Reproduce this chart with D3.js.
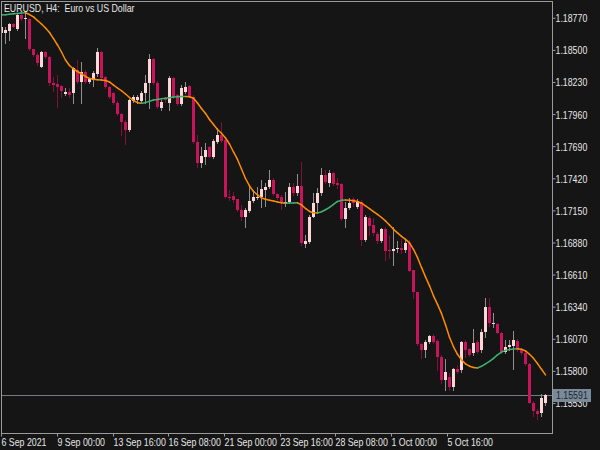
<!DOCTYPE html>
<html>
<head>
<meta charset="utf-8">
<script src="https://cdn.jsdelivr.net/npm/d3@7"></script>
<style>
  html, body { margin: 0; padding: 0; background: #151515; }
  svg { display: block; }
  text { font-family: "Liberation Sans", Arial, sans-serif; font-size: 11px; fill: #e6e6e6; white-space: pre; }
</style>
</head>
<body>
<svg id="chart" width="600" height="450"></svg>
<script>
const title = "EURUSD, H4:  Euro vs US Dollar";

const open = [1.18635,1.18635,1.18657,1.18713,1.18669,1.18791,1.18753,1.18755,1.18501,1.18453,
1.18354,1.18480,1.18438,1.18215,1.18206,1.18192,1.18125,1.18144,1.18136,1.18327,
1.18228,1.18312,1.18226,1.18242,1.18293,1.18475,1.18265,1.18181,1.18131,1.18052,
1.17957,1.17892,1.17822,1.18068,1.18074,1.18068,1.18131,1.18215,1.18416,1.18220,
1.18005,1.18089,1.18047,1.18257,1.18116,1.18041,1.18144,1.18192,1.18102,1.17724,
1.17547,1.17598,1.17677,1.17593,1.17724,1.17780,1.17738,1.17261,1.17267,1.17239,
1.17150,1.17093,1.17144,1.17228,1.17248,1.17256,1.17318,1.17340,1.17402,1.17284,
1.17256,1.17200,1.17219,1.17345,1.17295,1.17351,1.16864,1.16883,1.17093,1.17211,
1.17290,1.17444,1.17379,1.17463,1.17374,1.17368,1.17071,1.17164,1.17239,1.17172,
1.17219,1.16897,1.17080,1.17023,1.16948,1.16891,1.16987,1.16813,1.16807,1.16819,
1.16828,1.16813,1.16875,1.16645,1.16463,1.16023,1.15967,1.16042,1.16090,1.16051,
1.15916,1.15715,1.15748,1.15659,1.15815,1.15804,1.16042,1.15978,1.15950,1.16042,
1.15967,1.16126,1.16337,1.16191,1.16191,1.16118,1.15958,1.15995,1.16006,1.16051,
1.15973,1.15950,1.15855,1.15529,1.15462,1.15440,1.15529];

const high = [1.18691,1.18685,1.18719,1.18719,1.18803,1.18808,1.18817,1.18761,1.18506,1.18467,
1.18486,1.18486,1.18444,1.18270,1.18284,1.18200,1.18173,1.18175,1.18352,1.18411,
1.18396,1.18327,1.18259,1.18321,1.18509,1.18486,1.18276,1.18192,1.18142,1.18066,
1.17965,1.17906,1.18083,1.18116,1.18116,1.18150,1.18284,1.18461,1.18427,1.18234,
1.18074,1.18100,1.18276,1.18268,1.18125,1.18200,1.18228,1.18200,1.18116,1.17780,
1.17682,1.17715,1.17688,1.17746,1.17836,1.17892,1.17746,1.17318,1.17303,1.17242,
1.17192,1.17164,1.17360,1.17318,1.17345,1.17402,1.17374,1.17486,1.17416,1.17292,
1.17276,1.17303,1.17374,1.17374,1.17450,1.17556,1.16939,1.17107,1.17290,1.17332,
1.17500,1.17486,1.17486,1.17469,1.17416,1.17377,1.17219,1.17248,1.17256,1.17239,
1.17234,1.17107,1.17099,1.17080,1.16967,1.16996,1.17009,1.16931,1.17009,1.16891,
1.16903,1.16897,1.16897,1.16645,1.16463,1.16034,1.16057,1.16099,1.16107,1.16063,
1.15931,1.15894,1.15777,1.15819,1.15846,1.16051,1.16057,1.15989,1.16147,1.16057,
1.16147,1.16407,1.16407,1.16281,1.16200,1.16126,1.16057,1.16057,1.16135,1.16065,
1.15981,1.15958,1.15863,1.15544,1.15474,1.15603,1.15603];

const low = [1.18629,1.18556,1.18579,1.18685,1.18663,1.18747,1.18593,1.18495,1.18444,1.18369,
1.18349,1.18425,1.18200,1.18152,1.18018,1.18102,1.18116,1.18100,1.18052,1.18217,
1.18052,1.18217,1.18217,1.18192,1.18276,1.18251,1.18175,1.18091,1.18041,1.17948,
1.17780,1.17704,1.17814,1.18057,1.18047,1.18057,1.18047,1.18005,1.18209,1.18007,
1.17990,1.18057,1.17990,1.18091,1.18032,1.18032,1.18131,1.18100,1.17713,1.17514,
1.17509,1.17536,1.17591,1.17584,1.17710,1.17724,1.17250,1.17234,1.17219,1.17141,
1.17065,1.17004,1.17135,1.17219,1.17239,1.17177,1.17183,1.17332,1.17276,1.17242,
1.17155,1.17183,1.17206,1.17276,1.17276,1.16855,1.16841,1.16870,1.17088,1.17122,
1.17276,1.17374,1.17351,1.17360,1.17332,1.17065,1.17009,1.17155,1.17183,1.17164,
1.16855,1.16891,1.16939,1.16939,1.16875,1.16883,1.16729,1.16743,1.16687,1.16799,
1.16791,1.16799,1.16639,1.16407,1.16017,1.15903,1.15916,1.16029,1.16034,1.15804,
1.15693,1.15636,1.15636,1.15636,1.15777,1.15790,1.15916,1.15922,1.15931,1.15950,
1.15958,1.16084,1.16174,1.16168,1.16111,1.15945,1.15945,1.15973,1.15810,1.15964,
1.15939,1.15846,1.15524,1.15412,1.15390,1.15412,1.15510];

const close = [1.18685,1.18663,1.18713,1.18691,1.18791,1.18753,1.18764,1.18501,1.18453,1.18388,
1.18480,1.18433,1.18215,1.18198,1.18181,1.18152,1.18144,1.18116,1.18341,1.18228,
1.18312,1.18228,1.18248,1.18299,1.18480,1.18257,1.18181,1.18097,1.18052,1.17957,
1.17892,1.17822,1.18074,1.18102,1.18097,1.18136,1.18215,1.18416,1.18215,1.18018,
1.18060,1.18074,1.18257,1.18102,1.18041,1.18173,1.18181,1.18102,1.17724,1.17547,
1.17604,1.17654,1.17598,1.17732,1.17780,1.17732,1.17256,1.17250,1.17234,1.17150,
1.17093,1.17150,1.17228,1.17261,1.17261,1.17324,1.17345,1.17402,1.17284,1.17248,
1.17211,1.17219,1.17340,1.17295,1.17351,1.16870,1.16891,1.17093,1.17211,1.17290,
1.17444,1.17387,1.17463,1.17368,1.17360,1.17071,1.17164,1.17211,1.17206,1.17228,
1.16897,1.17088,1.17015,1.16954,1.16891,1.16987,1.16807,1.16807,1.16824,1.16830,
1.16813,1.16875,1.16639,1.16463,1.16023,1.15973,1.16042,1.16090,1.16042,1.15916,
1.15715,1.15782,1.15659,1.15810,1.15790,1.16042,1.15973,1.15931,1.16034,1.15958,
1.16126,1.16337,1.16197,1.16202,1.16118,1.15958,1.15995,1.16015,1.16057,1.15973,
1.15945,1.15855,1.15529,1.15462,1.15434,1.15566,1.15591];

const maValues = [1.18789,1.18792,1.18796,1.18799,1.18802,1.18806,1.18808,1.18793,1.18773,1.18743,
1.18713,1.18680,1.18642,1.18591,1.18537,1.18478,1.18411,1.18364,1.18335,1.18314,
1.18293,1.18272,1.18255,1.18248,1.18244,1.18242,1.18238,1.18226,1.18200,1.18175,
1.18152,1.18125,1.18095,1.18070,1.18052,1.18047,1.18052,1.18063,1.18074,1.18079,
1.18084,1.18089,1.18094,1.18099,1.18101,1.18103,1.18104,1.18102,1.18089,1.18049,
1.18003,1.17961,1.17910,1.17868,1.17826,1.17795,1.17755,1.17704,1.17637,1.17574,
1.17494,1.17414,1.17351,1.17305,1.17276,1.17250,1.17239,1.17231,1.17225,1.17217,
1.17210,1.17206,1.17207,1.17208,1.17209,1.17192,1.17162,1.17137,1.17126,1.17124,
1.17134,1.17151,1.17171,1.17196,1.17221,1.17230,1.17232,1.17230,1.17226,1.17220,
1.17206,1.17183,1.17160,1.17135,1.17112,1.17086,1.17057,1.17023,1.16986,1.16956,
1.16927,1.16902,1.16872,1.16817,1.16750,1.16666,1.16586,1.16511,1.16427,1.16355,
1.16279,1.16183,1.16078,1.15998,1.15935,1.15888,1.15855,1.15835,1.15824,1.15820,
1.15834,1.15855,1.15876,1.15901,1.15931,1.15953,1.15968,1.15976,1.15980,1.15981,
1.15977,1.15964,1.15935,1.15901,1.15857,1.15809,1.15762];

const yTicks = [1.18770,1.18500,1.18230,1.17960,1.17690,1.17420,1.17150,1.16880,1.16610,1.16340,1.16070,1.15800,1.15530];
const xTickLabels = ["6 Sep 2021","9 Sep 00:00","13 Sep 16:00","16 Sep 08:00","21 Sep 00:00","23 Sep 16:00","28 Sep 08:00","1 Oct 00:00","5 Oct 16:00"];
const xTickBars = [0, 14, 27.9, 41.8, 55.75, 69.7, 83.6, 97.5, 111.4];

const bars = open.map((o, i) => ({ i, o, h: high[i], l: low[i], c: close[i] }));
const N = bars.length;

const svg = d3.select("#chart");
const W = 600, H = 450;
const plot = { left: 1, top: 1, right: 552, bottom: 433 };
const SX = 0.8; // horizontal squeeze to mimic the narrow terminal font
const fmt = d3.format(".5f");

svg.append("rect").attr("width", W).attr("height", H).attr("fill", "#151515");

const x = d3.scaleLinear().domain([0, N - 1]).range([1, 545]);
const y = d3.scaleLinear().domain([1.15273, 1.18907]).range([plot.bottom, plot.top]);

svg.append("clipPath").attr("id", "clip").append("rect")
  .attr("x", plot.left + 0.5).attr("y", plot.top + 0.5)
  .attr("width", plot.right - plot.left - 0.5).attr("height", plot.bottom - plot.top - 0.5);
const gPlot = svg.append("g").attr("clip-path", "url(#clip)");

// last price line
const lastPrice = close[N - 1];
const ly = Math.round(y(lastPrice)) + 0.5;
gPlot.append("line").attr("x1", plot.left).attr("x2", plot.right).attr("y1", ly).attr("y2", ly)
  .attr("stroke", "#6f7b88").attr("stroke-width", 1);

// candles
const up = d => d.c >= d.o;
gPlot.append("g").selectAll("line").data(bars).join("line")
  .attr("x1", d => Math.round(x(d.i)) + 0.5).attr("x2", d => Math.round(x(d.i)) + 0.5)
  .attr("y1", d => Math.round(y(d.h))).attr("y2", d => Math.round(y(d.l)) + 1)
  .attr("stroke", d => up(d) ? "#8f8f8f" : "#7d1238").attr("stroke-width", 1);

gPlot.append("g").selectAll("rect").data(bars).join("rect")
  .attr("x", d => Math.round(x(d.i)) - 1)
  .attr("width", 3)
  .attr("y", d => Math.round(y(Math.max(d.o, d.c))))
  .attr("height", d => Math.max(1, Math.round(y(Math.min(d.o, d.c))) - Math.round(y(Math.max(d.o, d.c)))))
  .attr("fill", d => up(d) ? "#ffd6d6" : "#c8145a");

// moving average, coloured by direction
const maSegs = d3.range(1, N).map(i => ({ a: i - 1, b: i, rising: maValues[i] > maValues[i - 1] }));
const segLine = d3.line().x(d => x(d) + 0.5).y(d => y(maValues[d]));
gPlot.append("g").selectAll("path").data(maSegs).join("path")
  .attr("d", s => segLine([s.a, s.b]))
  .attr("fill", "none")
  .attr("stroke", s => s.rising ? "#3cb371" : "#ff8c00")
  .attr("stroke-width", 1.5)
  .attr("stroke-linecap", "round");

// frame
svg.append("rect").attr("x", plot.left + 0.5).attr("y", plot.top + 0.5)
  .attr("width", plot.right - plot.left).attr("height", plot.bottom - plot.top)
  .attr("fill", "none").attr("stroke", "#9a9a9a").attr("stroke-width", 1);

// y axis (scale-driven ticks)
const yAxis = d3.axisRight(y).tickValues(yTicks).tickSize(3).tickFormat(fmt);
const gy = svg.append("g").attr("transform", `translate(${plot.right + 0.5},0.5)`).call(yAxis);
gy.select(".domain").remove();
gy.selectAll(".tick line").attr("stroke", "#9a9a9a");
gy.selectAll(".tick text")
  .attr("x", null).attr("dy", null)
  .attr("transform", `translate(3,4) scale(${SX},1)`)
  .attr("fill", "#e6e6e6").attr("text-anchor", "start")
  .style("font-size", "11px").style("font-family", "'Liberation Sans', Arial, sans-serif");

// last price label
const lbl = svg.append("g").attr("transform", `translate(${plot.right + 1},${ly - 6.5})`);
lbl.append("rect").attr("width", 38).attr("height", 13).attr("fill", "#7b8a99");
lbl.append("text").attr("transform", `translate(3,10) scale(${SX},1)`).style("fill", "#1e2630")
  .text(fmt(lastPrice));

// x axis
const gx = svg.append("g").attr("transform", `translate(0.5,${plot.bottom + 0.5})`);
const xt = gx.selectAll("g").data(xTickBars).join("g")
  .attr("transform", d => `translate(${Math.round(x(d))},0)`);
xt.append("line").attr("y1", 0).attr("y2", 3).attr("stroke", "#9a9a9a");
xt.append("text").attr("transform", `translate(0,12.5) scale(${SX},1)`).text((d, k) => xTickLabels[k]);

// title
svg.append("text").attr("transform", `translate(4,11.5) scale(${SX},1)`).text(title);
</script>
</body>
</html>
